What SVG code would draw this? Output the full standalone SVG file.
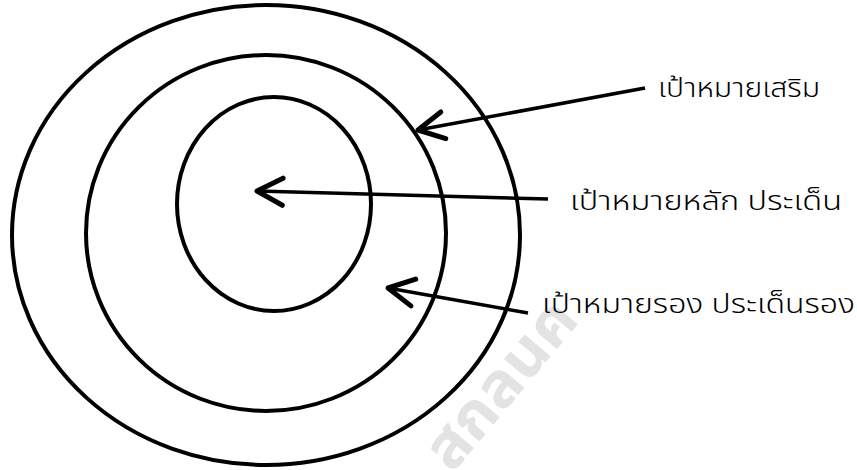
<svg xmlns="http://www.w3.org/2000/svg" width="857" height="470" viewBox="0 0 857 470">
<style>
.ring{fill:none;stroke:#000;stroke-width:4}
.conn{fill:none;stroke:#000;stroke-width:3.5;marker-end:url(#arr)}
.lbl{font-family:"Noto Sans Thai","Noto Sans","DejaVu Sans",sans-serif;font-size:26px;font-weight:300;fill:#000}
.wm{font-family:"Noto Sans Thai","Noto Sans","DejaVu Sans",sans-serif;font-size:62px;font-weight:bold;fill:#e3e3e3}
</style>
<defs>
<marker id="arr" markerUnits="userSpaceOnUse" markerWidth="40" markerHeight="40" viewBox="-22 -14 26 28" refX="0" refY="0" orient="auto" overflow="visible">
<path d="M-18,-9.5 L0,0 L-18,9.5" fill="none" stroke="#000" stroke-width="3.5" stroke-linecap="round" stroke-linejoin="round"/>
</marker>
</defs>
<rect width="857" height="470" fill="#fff"/>
<text class="wm" transform="translate(452,474) rotate(-50)" textLength="200" lengthAdjust="spacingAndGlyphs">สกลนค</text>
<g id="outer"><ellipse class="ring" cx="266" cy="235" rx="254" ry="230"/></g>
<g id="middle"><ellipse class="ring" cx="266" cy="233" rx="180" ry="178"/></g>
<g id="inner"><ellipse class="ring" cx="274" cy="204" rx="97" ry="107"/></g>
<g id="connectors">
<line class="conn" x1="645" y1="88" x2="418" y2="130"/>
<line class="conn" x1="548" y1="199" x2="257" y2="191"/>
<line class="conn" x1="528" y1="313" x2="388" y2="288"/>
</g>
<g id="label-secondary"><text class="lbl" x="658" y="97" textLength="162" lengthAdjust="spacingAndGlyphs">เป้าหมายเสริม</text></g>
<g id="label-main"><text class="lbl" x="570" y="210" textLength="272" lengthAdjust="spacingAndGlyphs">เป้าหมายหลัก ประเด็น</text></g>
<g id="label-sub"><text class="lbl" x="542" y="313" textLength="313" lengthAdjust="spacingAndGlyphs">เป้าหมายรอง ประเด็นรอง</text></g>
</svg>
